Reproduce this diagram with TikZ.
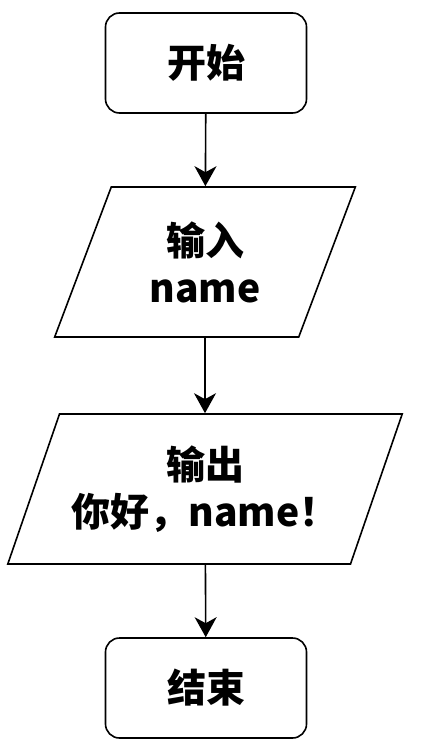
\documentclass[tikz,border=0pt]{standalone}
\usepackage{fontspec}
\setmainfont{Noto Sans CJK SC}[BoldFont={Noto Sans CJK SC Black}]
\usetikzlibrary{shapes.geometric,arrows.meta}

\begin{document}
\begin{tikzpicture}[x=1pt, y=1pt, font=\fontsize{39}{47}\selectfont\bfseries]
%% the figure is drawn in pixels of the reference (1px = 1pt)
%% parallelogram slant is set by the trapezium angles
\tikzstyle{arc}=[-{Stealth[length=20pt,width=22pt,inset=6pt]},line width=1.6pt]
\tikzstyle{terminal}=[draw,line width=1.6pt,rounded corners=14pt,minimum width=201pt,minimum height=100pt,align=center]
\tikzstyle{io}=[draw,line width=1.6pt,trapezium,trapezium stretches=true,minimum height=150pt,align=center]
\useasboundingbox (0,0) rectangle (420,-751);
%% TikZ-figure elements %%
\node[terminal] at (206,-63) (start) {开始};
\node[io,trapezium left angle=68,trapezium right angle=112,minimum width=301pt] at (205,-262) (input) {输入\\name};
\node[io,trapezium left angle=62.5,trapezium right angle=117.5,minimum width=396pt] at (205,-489) (output) {输出\\你好，name！};
\node[terminal] at (206,-688) (stop) {结束};
%% connectors between the blocks
\draw[arc] (start) -- (input);
\draw[arc] (input) -- (output);
\draw[arc] (output) -- (stop);
\end{tikzpicture}
\end{document}
